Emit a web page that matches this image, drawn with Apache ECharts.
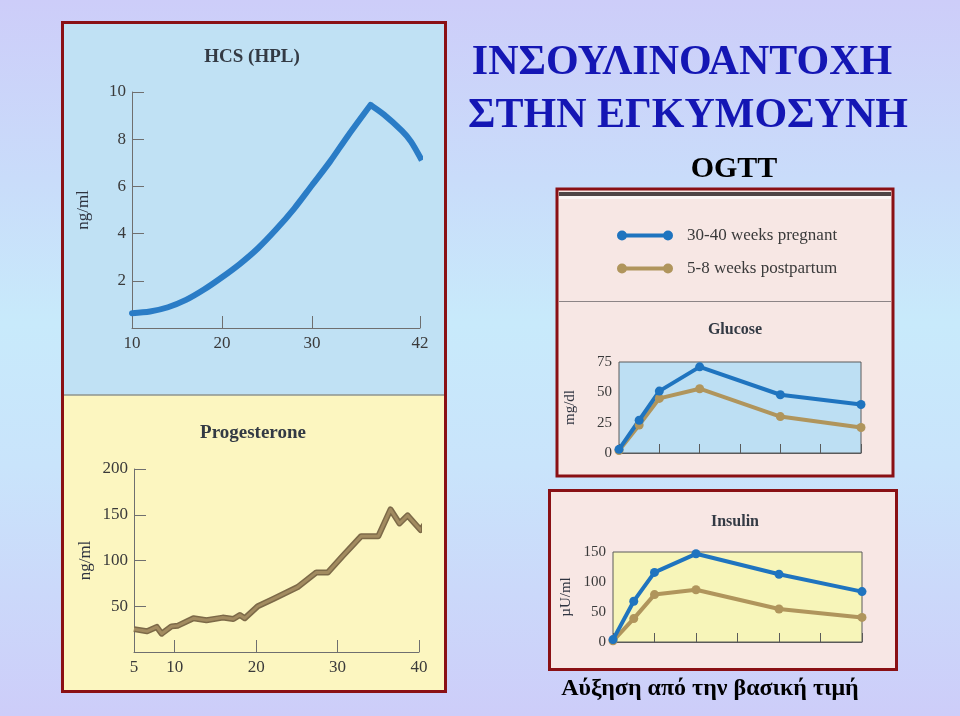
<!DOCTYPE html>
<html>
<head>
<meta charset="utf-8">
<script src="https://cdn.jsdelivr.net/npm/echarts@6/dist/echarts.min.js"></script>
<style>
html,body{margin:0;padding:0;}
#c{width:960px;height:716px;background:linear-gradient(to bottom,#cdcdf9 0%,#c9dcfa 25%,#c8eafb 45%,#c9e4fb 65%,#cdcdf9 100%);}
</style>
</head>
<body>
<div id="c"></div>
<script>
// ---- data ----
const hcsWeeks = [10, 12, 14, 16, 18, 20, 22, 24, 26, 28, 30, 32, 34, 36.5, 38, 40, 41, 42.2];
const hcsValues = [0.63, 0.7, 0.88, 1.19, 1.63, 2.15, 2.72, 3.38, 4.17, 5.05, 6.05, 7.05, 8.15, 9.45, 9.04, 8.35, 7.9, 7.1];
const hcsPeakIndex = 13;
const hcsXLabels = [10, 20, 30, 42];
const hcsYLabels = [2, 4, 6, 8, 10];

const progWeeks = [5, 6.6, 7.8, 8.4, 9.6, 10.4, 12.3, 13.9, 15.9, 17.2, 18, 18.6, 20.2, 22.1, 25.1, 27.4, 28.8, 30.6, 32.9, 35, 36.5, 37.6, 38.6, 40.2, 41.3, 42.3];
const progValues = [25, 22.6, 27.4, 20, 28, 28.8, 36.9, 34.7, 37.6, 36.1, 40.5, 36.9, 50, 58, 71, 87, 87, 104.7, 126.6, 126.6, 155.8, 140.5, 149.3, 133.2, 147.8, 139.4];
const progXLabels = [5, 10, 20, 30, 40];
const progXTicks = [10, 20, 30, 40];
const progYLabels = [50, 100, 150, 200];

const ogttMinutes = [0, 15, 30, 60, 120, 180];
const glucosePregnant = [3, 27, 51, 71, 48, 40];
const glucosePostpartum = [2, 23, 45, 53, 30, 21];
const insulinPregnant = [4, 68, 116, 147, 113, 84];
const insulinPostpartum = [2, 39, 79, 87, 55, 41];

const seriesNames = ['30-40 weeks pregnant', '5-8 weeks postpartum'];

const pairs = (xs, ys) => xs.map((x, i) => [x, ys[i]]);
const hcsPairs = pairs(hcsWeeks, hcsValues);

// ---- styles ----
const SERIF = '"Liberation Serif", "DejaVu Serif", serif';
const BLUE = '#1f74bf';
const BROWN = '#b0955c';
const AX = '#6f6f6f';
const LBL = '#3a3a3a';

const chart = echarts.init(document.getElementById('c'));

function textG(text, x, y, size, color, weight) {
  return {
    type: 'text', z: 20,
    style: { text: text, x: x, y: y, font: (weight || 'normal') + ' ' + size + 'px ' + SERIF,
      fill: color, textAlign: 'center', textVerticalAlign: 'middle' }
  };
}

const legendIcon = 'path://M5,0 A5,5 0 1,0 5,10 A5,5 0 1,0 5,0 Z M51,0 A5,5 0 1,0 51,10 A5,5 0 1,0 51,0 Z M6,3 L6,7 L50,7 L50,3 Z';

const option = {
  animation: false,
  backgroundColor: 'transparent',
  graphic: [
    // left image panel
    { type: 'rect', z: -5, shape: { x: 62, y: 23, width: 384, height: 372 }, style: { fill: '#c0e1f4' } },
    { type: 'rect', z: -5, shape: { x: 62, y: 395, width: 384, height: 297 }, style: { fill: '#fcf6c0' } },
    { type: 'line', z: -4, shape: { x1: 62, y1: 395, x2: 446, y2: 395 }, style: { stroke: '#8f948f', lineWidth: 1.5 } },
    { type: 'rect', z: -3, shape: { x: 62.5, y: 22.5, width: 383, height: 669 }, style: { fill: 'none', stroke: '#8a1014', lineWidth: 3 } },
    // glucose panel
    { type: 'rect', z: -5, shape: { x: 557, y: 189, width: 336, height: 287 }, style: { fill: '#f7e7e4', stroke: '#8a1014', lineWidth: 3 } },
    { type: 'rect', z: -4, shape: { x: 559, y: 192, width: 332, height: 4 }, style: { fill: '#4e4646' } },
    { type: 'rect', z: -4, shape: { x: 559, y: 196, width: 332, height: 3 }, style: { fill: '#fbf6f5' } },
    { type: 'line', z: -4, shape: { x1: 559, y1: 301.5, x2: 891, y2: 301.5 }, style: { stroke: '#8c8486', lineWidth: 1 } },
    // insulin panel
    { type: 'rect', z: -5, shape: { x: 549.5, y: 490.5, width: 347, height: 179 }, style: { fill: '#f8e7e4', stroke: '#8a1014', lineWidth: 3 } },
    // texts
    textG('ΙΝΣΟΥΛΙΝΟΑΝΤΟΧΗ', 682, 63, 42, '#1416b4', 'bold'),
    textG('ΣΤΗΝ ΕΓΚΥΜΟΣΥΝΗ', 688, 116, 42, '#1416b4', 'bold'),
    textG('OGTT', 734, 169, 30, '#000000', 'bold'),
    textG('Αύξηση από την βασική τιμή', 710, 689, 24, '#000000', 'bold'),
    textG('HCS (HPL)', 252, 57, 19, '#333a44', 'bold'),
    textG('Progesterone', 253, 433, 19, '#333a44', 'bold'),
    textG('Glucose', 735, 330, 16, '#333a44', 'bold'),
    textG('Insulin', 735, 522, 16, '#333a44', 'bold')
  ],
  legend: {
    data: seriesNames,
    orient: 'vertical',
    left: 612, top: 222,
    itemWidth: 56, itemHeight: 11,
    itemGap: 16,
    icon: legendIcon,
    selectedMode: false,
    textStyle: { fontFamily: SERIF, fontSize: 17, color: '#3a3a3a', padding: [0, 0, 0, 9] }
  },
  grid: [
    { left: 132, right: 960 - 420, top: 92, bottom: 716 - 328 },
    { left: 134, right: 960 - 419, top: 469, bottom: 716 - 652 },
    { left: 619, right: 960 - 861, top: 362, bottom: 716 - 453, show: true, backgroundColor: '#bddff3', borderColor: '#5a5a5a', borderWidth: 1 },
    { left: 613, right: 960 - 862, top: 552, bottom: 716 - 642, show: true, backgroundColor: '#f7f5b9', borderColor: '#5a5a5a', borderWidth: 1 }
  ],
  xAxis: [
    { gridIndex: 0, type: 'value', min: 10, max: 42,
      axisLine: { show: true, lineStyle: { color: AX } },
      axisTick: { show: true, inside: true, length: 12, customValues: hcsXLabels.slice(1), lineStyle: { color: AX } },
      axisLabel: { customValues: hcsXLabels, fontFamily: SERIF, fontSize: 17, color: LBL, margin: 7 },
      splitLine: { show: false } },
    { gridIndex: 1, type: 'value', min: 5, max: 40,
      axisLine: { show: true, lineStyle: { color: AX } },
      axisTick: { show: true, inside: true, length: 12, customValues: progXTicks, lineStyle: { color: AX } },
      axisLabel: { customValues: progXLabels, fontFamily: SERIF, fontSize: 17, color: LBL, margin: 7 },
      splitLine: { show: false } },
    { gridIndex: 2, type: 'value', min: 0, max: 180, interval: 30,
      axisLine: { show: true, lineStyle: { color: '#5a5a5a' } },
      axisTick: { show: true, inside: true, length: 9, lineStyle: { color: '#5a5a5a' } },
      axisLabel: { show: false }, splitLine: { show: false } },
    { gridIndex: 3, type: 'value', min: 0, max: 180, interval: 30,
      axisLine: { show: true, lineStyle: { color: '#5a5a5a' } },
      axisTick: { show: true, inside: true, length: 9, lineStyle: { color: '#5a5a5a' } },
      axisLabel: { show: false }, splitLine: { show: false } }
  ],
  yAxis: [
    { gridIndex: 0, type: 'value', min: 0, max: 10,
      name: 'ng/ml', nameLocation: 'middle', nameGap: 40,
      nameTextStyle: { fontFamily: SERIF, fontSize: 17, color: '#2f3440' },
      axisLine: { show: true, lineStyle: { color: AX } },
      axisTick: { show: true, inside: true, length: 12, customValues: hcsYLabels, lineStyle: { color: AX } },
      axisLabel: { customValues: hcsYLabels, fontFamily: SERIF, fontSize: 17, color: LBL, margin: 6 },
      splitLine: { show: false } },
    { gridIndex: 1, type: 'value', min: 0, max: 200,
      name: 'ng/ml', nameLocation: 'middle', nameGap: 40,
      nameTextStyle: { fontFamily: SERIF, fontSize: 17, color: '#2f3440' },
      axisLine: { show: true, lineStyle: { color: AX } },
      axisTick: { show: true, inside: true, length: 12, customValues: progYLabels, lineStyle: { color: AX } },
      axisLabel: { customValues: progYLabels, fontFamily: SERIF, fontSize: 17, color: LBL, margin: 6 },
      splitLine: { show: false } },
    { gridIndex: 2, type: 'value', min: 0, max: 75, interval: 25,
      name: 'mg/dl', nameLocation: 'middle', nameGap: 41,
      nameTextStyle: { fontFamily: SERIF, fontSize: 15, color: '#2f3440' },
      axisLine: { show: false }, axisTick: { show: false },
      axisLabel: { fontFamily: SERIF, fontSize: 15, color: LBL, margin: 7 },
      splitLine: { show: false } },
    { gridIndex: 3, type: 'value', min: 0, max: 150, interval: 50,
      name: 'µU/ml', nameLocation: 'middle', nameGap: 39,
      nameTextStyle: { fontFamily: SERIF, fontSize: 15, color: '#2f3440' },
      axisLine: { show: false }, axisTick: { show: false },
      axisLabel: { fontFamily: SERIF, fontSize: 15, color: LBL, margin: 7 },
      splitLine: { show: false } }
  ],
  series: [
    { type: 'line', xAxisIndex: 0, yAxisIndex: 0, data: hcsPairs.slice(0, hcsPeakIndex + 1), smooth: 0.3, showSymbol: false,
      lineStyle: { color: '#2a7cc6', width: 6, join: 'round', cap: 'round' }, clip: false },
    { type: 'line', xAxisIndex: 0, yAxisIndex: 0, data: hcsPairs.slice(hcsPeakIndex), smooth: 0.3, showSymbol: false,
      lineStyle: { color: '#2a7cc6', width: 6, join: 'round', cap: 'butt' }, clip: false },
    { type: 'line', xAxisIndex: 1, yAxisIndex: 1, data: pairs(progWeeks, progValues), showSymbol: false,
      lineStyle: { color: '#7d6a48', width: 6, join: 'round' }, clip: false },
    { type: 'line', xAxisIndex: 1, yAxisIndex: 1, data: pairs(progWeeks, progValues), showSymbol: false,
      lineStyle: { color: '#a28b60', width: 3, join: 'round' }, clip: false },
    { name: seriesNames[1], type: 'line', xAxisIndex: 2, yAxisIndex: 2, data: pairs(ogttMinutes, glucosePostpartum),
      symbol: 'circle', symbolSize: 9, itemStyle: { color: BROWN }, lineStyle: { color: BROWN, width: 4 }, clip: false },
    { name: seriesNames[0], type: 'line', xAxisIndex: 2, yAxisIndex: 2, data: pairs(ogttMinutes, glucosePregnant),
      symbol: 'circle', symbolSize: 9, itemStyle: { color: BLUE }, lineStyle: { color: BLUE, width: 4 }, clip: false },
    { name: seriesNames[1], type: 'line', xAxisIndex: 3, yAxisIndex: 3, data: pairs(ogttMinutes, insulinPostpartum),
      symbol: 'circle', symbolSize: 9, itemStyle: { color: BROWN }, lineStyle: { color: BROWN, width: 4 }, clip: false },
    { name: seriesNames[0], type: 'line', xAxisIndex: 3, yAxisIndex: 3, data: pairs(ogttMinutes, insulinPregnant),
      symbol: 'circle', symbolSize: 9, itemStyle: { color: BLUE }, lineStyle: { color: BLUE, width: 4 }, clip: false }
  ]
};
chart.setOption(option);
</script>
</body>
</html>
